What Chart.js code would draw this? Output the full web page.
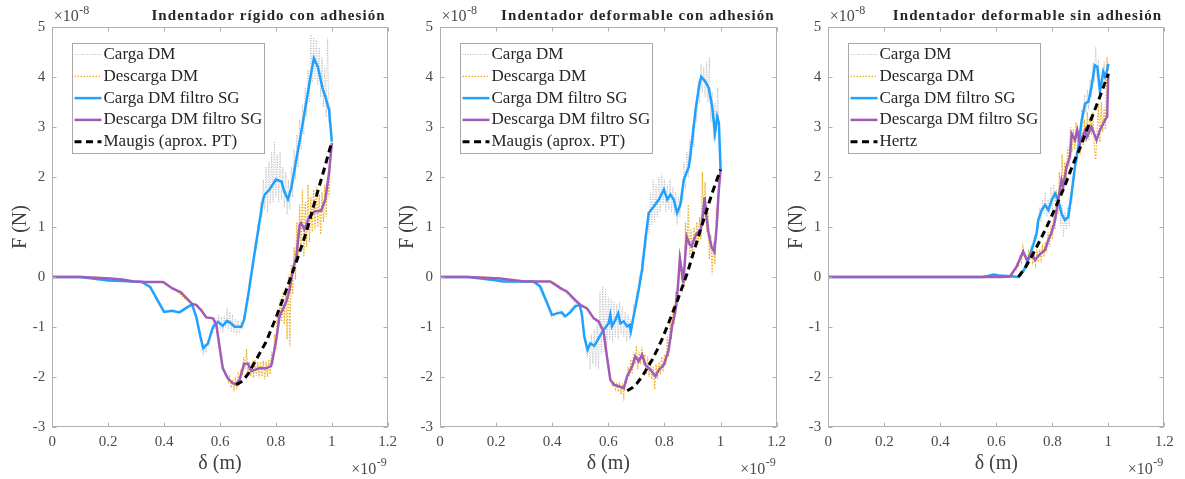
<!DOCTYPE html>
<html>
<head>
<meta charset="utf-8">
<script src="https://cdn.jsdelivr.net/npm/chart.js"></script>
<style>
  body { margin: 0; background: #fff; }
  canvas { position: absolute; left: 0; top: 0; }
</style>
</head>
<body>
<canvas id="p1" width="1185" height="479"></canvas>
<canvas id="p2" width="1185" height="479"></canvas>
<canvas id="p3" width="1185" height="479"></canvas>

<script>
// delta in units of 1e-9 m, force in units of 1e-8 N
const xTicks = [0, 0.2, 0.4, 0.6, 0.8, 1, 1.2];
const yTicks = [-3, -2, -1, 0, 1, 2, 3, 4, 5];

const titles = ['Indentador rígido con adhesión', 'Indentador deformable con adhesión', 'Indentador deformable sin adhesión'];
const seriesNames = ['Carga DM', 'Descarga DM', 'Carga DM filtro SG', 'Descarga DM filtro SG'];
const modelNames = ['Maugis (aprox. PT)', 'Maugis (aprox. PT)', 'Hertz'];

// raw DM samples, all on the same delta grid
const dmX = [0, 0.05, 0.1, 0.15, 0.2, 0.25, 0.3, 0.325, 0.35, 0.375, 0.4, 0.42, 0.44, 0.46, 0.48, 0.5,
  0.505, 0.51, 0.515, 0.52, 0.525, 0.53, 0.535, 0.54, 0.545, 0.55,
  0.555, 0.56, 0.565, 0.57, 0.575, 0.58, 0.585, 0.59, 0.595, 0.6,
  0.605, 0.61, 0.615, 0.62, 0.625, 0.63, 0.635, 0.64, 0.645, 0.65,
  0.655, 0.66, 0.665, 0.67, 0.675, 0.68, 0.685, 0.69, 0.695, 0.7,
  0.705, 0.71, 0.715, 0.72, 0.725, 0.73, 0.735, 0.74, 0.745, 0.75,
  0.755, 0.76, 0.765, 0.77, 0.775, 0.78, 0.785, 0.79, 0.795, 0.8,
  0.805, 0.81, 0.815, 0.82, 0.825, 0.83, 0.835, 0.84, 0.845, 0.85,
  0.855, 0.86, 0.865, 0.87, 0.875, 0.88, 0.885, 0.89, 0.895, 0.9,
  0.905, 0.91, 0.915, 0.92, 0.925, 0.93, 0.935, 0.94, 0.945, 0.95,
  0.955, 0.96, 0.965, 0.97, 0.975, 0.98, 0.985, 0.99, 0.995, 1.0];

// --- rigid indenter with adhesion ---
const cargaDM1 = [0, 0, 0, -0.01, -0.06, -0.08, -0.09, -0.1, -0.22, -0.5, -0.72, -0.66, -0.72, -0.68, -0.6, -0.56,
  -0.6, -0.76, -0.78, -0.98, -1.02, -1.3, -1.25, -1.58, -1.35, -1.52,
  -1.28, -1.38, -1.1, -1.18, -0.92, -1.05, -0.82, -1.0, -0.75, -1.05,
  -0.8, -1.12, -0.78, -1.02, -0.62, -1.05, -0.7, -1.1, -0.76, -1.12,
  -0.85, -1.15, -0.88, -1.12, -0.9, -1.05, -0.75, -0.85, -0.42, -0.5,
  -0.05, -0.15, 0.32, 0.22, 0.7, 0.55, 1.05, 0.9, 1.5, 1.2,
  1.95, 1.35, 2.2, 1.3, 2.3, 1.45, 2.5, 1.5, 2.72, 1.6,
  2.45, 1.5, 2.5, 1.55, 2.2, 1.4, 2.1, 1.25, 1.95, 1.35,
  2.2, 1.6, 2.55, 1.95, 2.85, 2.2, 3.15, 2.55, 3.45, 2.85,
  3.8, 3.2, 4.15, 3.5, 4.85, 3.9, 4.8, 3.95, 4.75, 3.85,
  4.6, 3.6, 4.4, 3.4, 4.2, 3.2, 4.78, 3.1, 3.4, 2.75];
const descargaDM1 = [0, 0, 0, 0, -0.02, -0.05, -0.08, -0.1, -0.1, -0.1, -0.1, -0.18, -0.26, -0.36, -0.46, -0.54,
  -0.55, -0.56, -0.56, -0.6, -0.63, -0.66, -0.7, -0.74, -0.78, -0.81,
  -0.82, -0.83, -0.83, -0.83, -0.84, -0.88, -0.95, -1.1, -1.3, -1.46,
  -1.65, -1.83, -1.9, -1.98, -1.98, -2.1, -2.0, -2.22, -2.05, -2.25,
  -2.05, -2.2, -1.95, -2.12, -1.85, -1.98, -1.6, -1.85, -1.45, -1.9,
  -1.7, -2.0, -1.75, -2.02, -1.65, -1.98, -1.7, -2.02, -1.7, -2.0,
  -1.68, -2.05, -1.7, -2.0, -1.65, -1.95, -1.5, -1.75, -1.15, -1.45,
  -0.7, -1.0, -0.45, -0.9, -0.3, -0.95, -0.2, -1.25, 0.05, -1.4,
  0.25, -0.35, 0.6, -0.05, 1.1, 0.35, 1.45, 0.55, 1.75, 0.4,
  1.5, 0.6, 1.85, 0.7, 1.6, 0.9, 1.75, 0.95, 1.8, 1.0,
  1.65, 0.85, 1.7, 1.1, 1.85, 1.2, 2.0, 1.6, 2.35, 2.7];
const cargaSG1X = [0, 0.1, 0.2, 0.25, 0.32, 0.35, 0.375, 0.4, 0.43, 0.455, 0.485, 0.5, 0.515, 0.53, 0.54,
  0.557, 0.575, 0.593, 0.61, 0.625, 0.64, 0.652, 0.676, 0.686, 0.7, 0.718, 0.735, 0.754, 0.76, 0.777,
  0.8, 0.82, 0.83, 0.843, 0.855, 0.873, 0.89, 0.908, 0.926, 0.936, 0.95, 0.968, 0.977, 0.99, 1.0];
const cargaSG1 = [0, 0, -0.07, -0.08, -0.1, -0.2, -0.45, -0.7, -0.68, -0.71, -0.6, -0.55, -0.8, -1.2, -1.43,
  -1.33, -1.0, -0.9, -0.98, -0.88, -0.93, -1.0, -1.0, -0.86, -0.4, 0.27, 0.88, 1.55, 1.65, 1.75,
  1.95, 1.91, 1.71, 1.55, 1.78, 2.35, 2.88, 3.48, 4.08, 4.38, 4.21, 3.75, 3.61, 3.35, 2.71];
const descargaSG1X = [0, 0.1, 0.206, 0.25, 0.29, 0.337, 0.396, 0.43, 0.46, 0.486, 0.5, 0.515, 0.533, 0.551, 0.575,
  0.587, 0.6, 0.61, 0.628, 0.646, 0.658, 0.67, 0.686, 0.7, 0.712, 0.74, 0.765, 0.783, 0.79, 0.8,
  0.813, 0.837, 0.849, 0.86, 0.873, 0.885, 0.89, 0.902, 0.92, 0.938, 0.962, 0.977, 0.99, 1.0];
const descargaSG1 = [0, 0, -0.03, -0.05, -0.09, -0.1, -0.1, -0.23, -0.31, -0.46, -0.54, -0.56, -0.67, -0.81, -0.83,
  -0.96, -1.46, -1.83, -2.03, -2.13, -2.15, -2.06, -1.74, -1.74, -1.89, -1.83, -1.83, -1.78, -1.6, -1.3,
  -0.79, -0.5, -0.26, 0.14, 0.4, 1.04, 1.08, 0.95, 1.21, 1.31, 1.33, 1.55, 2.08, 2.68];
const model1X = [0.658, 0.68, 0.7, 0.73, 0.765, 0.8, 0.837, 0.873, 0.909, 0.95, 0.975, 1.0];
const model1 = [-2.16, -2.09, -1.95, -1.65, -1.3, -0.82, -0.26, 0.3, 0.9, 1.72, 2.2, 2.71];

// --- deformable indenter with adhesion ---
const cargaDM2 = [0, 0, 0, -0.02, -0.07, -0.09, -0.09, -0.1, -0.17, -0.48, -0.85, -0.66, -0.82, -0.68, -0.55, -0.6,
  -0.7, -1.05, -1.25, -1.45, -1.6, -1.35, -1.85, -1.15, -1.75, -1.05,
  -1.8, -0.95, -1.85, -0.3, -1.55, -0.2, -1.5, -0.25, -1.35, -0.4,
  -1.25, -0.45, -1.3, -0.5, -1.2, -0.55, -1.25, -0.5, -1.15, -0.6,
  -1.2, -0.7, -1.3, -0.75, -1.25, -0.85, -1.05, -0.55, -0.75, -0.3,
  -0.5, 0.05, -0.1, 0.4, 0.1, 0.85, 0.55, 1.3, 0.85, 1.7,
  1.05, 1.95, 1.1, 1.85, 1.2, 2.0, 1.3, 2.05, 1.45, 1.95,
  1.3, 1.85, 1.35, 1.95, 1.3, 1.8, 1.25, 1.7, 1.05, 1.6,
  1.2, 1.75, 1.5, 2.3, 1.75, 2.5, 2.0, 2.75, 2.3, 3.05,
  2.6, 3.5, 3.1, 3.95, 3.5, 4.25, 3.7, 4.2, 3.6, 4.3,
  3.5, 4.4, 3.1, 3.7, 2.75, 3.5, 2.9, 3.8, 2.6, 2.2];
const descargaDM2 = [0, 0, 0, 0, -0.02, -0.05, -0.08, -0.09, -0.09, -0.09, -0.1, -0.15, -0.25, -0.38, -0.5, -0.56,
  -0.58, -0.6, -0.61, -0.63, -0.66, -0.7, -0.74, -0.78, -0.82, -0.84,
  -0.87, -0.89, -0.9, -0.92, -0.97, -1.05, -1.12, -1.3, -1.55, -1.8,
  -2.05, -2.08, -2.2, -2.12, -2.25, -2.15, -2.3, -2.15, -2.35, -2.18,
  -2.4, -2.05, -2.15, -1.8, -2.0, -1.65, -1.95, -1.5, -1.75, -1.38,
  -1.85, -1.5, -1.75, -1.4, -1.7, -1.55, -1.95, -1.6, -2.0, -1.7,
  -2.05, -1.8, -2.25, -1.75, -2.05, -1.7, -1.95, -1.6, -1.9, -1.55,
  -1.75, -1.2, -1.6, -0.85, -1.25, -0.6, -0.95, -0.3, -0.6, 0.15,
  0.5, -0.05, 0.2, -0.2, 1.1, 0.55, 1.45, 0.4, 0.95, 0.45,
  1.0, 0.6, 1.1, 0.65, 1.2, 0.75, 2.1, 1.1, 1.9, 0.9,
  1.3, 0.35, 0.85, 0.05, 0.7, 0.25, 1.3, 1.15, 1.9, 2.15];
const cargaSG2X = [0, 0.1, 0.19, 0.226, 0.3, 0.333, 0.357, 0.375, 0.387, 0.399, 0.417, 0.434, 0.446, 0.464, 0.482,
  0.498, 0.506, 0.514, 0.526, 0.536, 0.55, 0.565, 0.583, 0.601, 0.607, 0.613, 0.625, 0.635, 0.643, 0.655,
  0.667, 0.676, 0.68, 0.69, 0.708, 0.72, 0.732, 0.744, 0.762, 0.78, 0.798, 0.81, 0.821, 0.833, 0.845,
  0.857, 0.869, 0.887, 0.899, 0.911, 0.923, 0.931, 0.946, 0.958, 0.97, 0.98, 0.988, 0.994, 1.0];
const cargaSG2 = [0, 0, -0.06, -0.09, -0.09, -0.09, -0.19, -0.43, -0.59, -0.76, -0.73, -0.71, -0.79, -0.71, -0.59,
  -0.56, -0.76, -1.19, -1.46, -1.33, -1.38, -1.23, -1.06, -0.93, -0.76, -0.99, -0.86, -0.73, -0.93, -0.89,
  -0.99, -0.96, -1.09, -0.79, -0.26, 0.14, 0.75, 1.28, 1.41, 1.55, 1.75, 1.55, 1.65, 1.55, 1.28,
  1.45, 1.95, 2.21, 2.75, 3.35, 3.81, 4.01, 3.91, 3.78, 3.41, 2.88, 3.21, 3.08, 2.15];
const descargaSG2X = [0, 0.1, 0.214, 0.3, 0.393, 0.43, 0.452, 0.476, 0.5, 0.524, 0.548, 0.565, 0.583, 0.595, 0.607,
  0.62, 0.637, 0.655, 0.667, 0.685, 0.696, 0.708, 0.72, 0.732, 0.75, 0.768, 0.78, 0.798, 0.815, 0.827,
  0.839, 0.848, 0.855, 0.862, 0.867, 0.879, 0.89, 0.897, 0.905, 0.915, 0.93, 0.938, 0.943, 0.95, 0.958,
  0.968, 0.978, 0.986, 0.993, 1.0];
const descargaSG2 = [0, 0, -0.03, -0.09, -0.09, -0.23, -0.29, -0.43, -0.56, -0.63, -0.83, -0.89, -1.09, -1.59, -2.06,
  -2.16, -2.19, -2.23, -1.99, -1.79, -1.59, -1.69, -1.56, -1.76, -1.86, -1.99, -1.86, -1.76, -1.46, -0.99,
  -0.69, -0.19, 0.37, 0.1, -0.13, 0.81, 0.65, 0.61, 0.75, 0.87, 0.95, 1.3, 1.6, 1.2, 0.85,
  0.6, 0.5, 1.0, 1.7, 2.15];
const model2X = [0.667, 0.685, 0.702, 0.72, 0.738, 0.756, 0.774, 0.792, 0.81, 0.845, 0.881, 0.91, 0.94, 0.97, 1.0];
const model2 = [-2.28, -2.22, -2.13, -2.0, -1.83, -1.66, -1.46, -1.24, -0.99, -0.49, 0.07, 0.61, 1.15, 1.68, 2.15];

// --- deformable indenter without adhesion ---
const cargaDM3 = [0, 0, 0, 0, 0, 0, 0, 0, 0, 0, 0, 0, 0, 0, 0, 0,
  0, 0, 0, 0, 0, 0, 0, 0, 0, 0,
  0.01, 0.0, 0.03, 0.01, 0.05, 0.02, 0.06, 0.03, 0.05, 0.02,
  0.04, 0.02, 0.04, 0.01, 0.03, 0.01, 0.03, 0.0, 0.02, 0.0,
  0.02, 0.0, 0.01, 0.0, 0.02, -0.01, 0.1, 0.02, 0.2, 0.1,
  0.3, 0.2, 0.45, 0.35, 0.65, 0.5, 0.85, 0.7, 1.1, 0.95,
  1.4, 1.1, 1.55, 1.25, 1.7, 1.2, 1.55, 1.25, 1.8, 1.35,
  1.85, 1.45, 1.75, 1.3, 1.6, 1.0, 1.45, 0.8, 1.3, 0.95,
  1.4, 1.0, 1.7, 1.45, 2.1, 1.95, 2.5, 2.3, 2.85, 2.7,
  3.35, 3.0, 3.65, 3.3, 3.75, 3.35, 3.95, 3.6, 4.3, 3.9,
  4.6, 4.0, 4.35, 3.55, 4.0, 3.85, 4.3, 3.9, 4.25, 4.2];
const descargaDM3 = [0, 0, 0, 0, 0, 0, 0, 0, 0, 0, 0, 0, 0, 0, 0, 0,
  0, 0, 0, 0, 0, 0, 0, 0, 0, 0,
  0, 0, 0, 0, 0, 0, 0, 0, 0, 0,
  0, 0, 0, 0, 0.01, 0.0, 0.02, 0.01, 0.02, 0.03,
  0.08, 0.05, 0.18, 0.12, 0.3, 0.2, 0.45, 0.3, 0.6, 0.4,
  0.45, 0.25, 0.5, 0.35, 0.58, 0.3, 0.45, 0.25, 0.5, 0.3,
  0.55, 0.35, 0.6, 0.4, 0.7, 0.55, 0.9, 0.6, 1.05, 0.75,
  1.3, 0.95, 1.7, 1.25, 2.1, 1.6, 2.45, 1.7, 2.3, 1.9,
  2.6, 2.2, 3.0, 2.5, 2.95, 2.55, 3.1, 2.7, 2.95, 2.45,
  3.0, 2.65, 3.15, 2.7, 3.3, 2.75, 3.2, 2.85, 3.3, 2.6,
  2.35, 2.9, 3.45, 2.7, 3.5, 2.9, 3.4, 2.95, 4.4, 4.1];
const cargaSG3X = [0, 0.3, 0.55, 0.57, 0.59, 0.61, 0.637, 0.66, 0.68, 0.7, 0.714, 0.732, 0.744, 0.75, 0.762,
  0.774, 0.786, 0.798, 0.81, 0.821, 0.833, 0.845, 0.857, 0.869, 0.881, 0.893, 0.905, 0.917, 0.929, 0.94,
  0.952, 0.961, 0.97, 0.982, 0.988, 0.996, 1.0];
const cargaSG3 = [0, 0, 0, 0.02, 0.05, 0.03, 0.02, 0.01, 0, 0.15, 0.34, 0.64, 0.87, 1.14, 1.34,
  1.44, 1.34, 1.54, 1.67, 1.54, 1.27, 1.14, 1.2, 1.67, 2.21, 2.61, 3.14, 3.47, 3.51, 3.81,
  4.24, 4.21, 3.71, 4.11, 4.01, 4.14, 4.27];
const descargaSG3X = [0, 0.3, 0.62, 0.649, 0.673, 0.696, 0.709, 0.726, 0.738, 0.755, 0.774, 0.786, 0.798, 0.81, 0.821,
  0.833, 0.839, 0.851, 0.863, 0.869, 0.881, 0.889, 0.899, 0.917, 0.923, 0.94, 0.958, 0.97, 0.988, 0.996, 1.0];
const descargaSG3 = [0, 0, 0, 0.01, 0.21, 0.51, 0.34, 0.47, 0.34, 0.45, 0.54, 0.74, 0.9, 1.14, 1.54,
  1.94, 1.81, 2.21, 2.41, 2.87, 2.74, 2.94, 2.67, 2.94, 2.8, 3.01, 2.74, 2.94, 3.14, 3.21, 4.07];
const model3X = [0.679, 0.705, 0.732, 0.756, 0.78, 0.804, 0.828, 0.852, 0.875, 0.9, 0.923, 0.947, 0.97, 1.0];
const model3 = [0, 0.2, 0.47, 0.73, 1.0, 1.3, 1.6, 1.93, 2.27, 2.6, 2.94, 3.28, 3.61, 4.07];

const panels = [
  { id: 'p1', left: 52.3, right: 387.7,
    series: [[dmX, cargaDM1], [dmX, descargaDM1], [cargaSG1X, cargaSG1], [descargaSG1X, descargaSG1], [model1X, model1]] },
  { id: 'p2', left: 440, right: 776.7,
    series: [[dmX, cargaDM2], [dmX, descargaDM2], [cargaSG2X, cargaSG2], [descargaSG2X, descargaSG2], [model2X, model2]] },
  { id: 'p3', left: 828.3, right: 1164.3,
    series: [[dmX, cargaDM3], [dmX, descargaDM3], [cargaSG3X, cargaSG3], [descargaSG3X, descargaSG3], [model3X, model3]] }
];
const plotTop = 27.3, plotBottom = 426.7;

const lineStyles = [
  { borderColor: '#bababa', borderWidth: 1, borderDash: [1, 1.5] },
  { borderColor: '#edb120', borderWidth: 1.2, borderDash: [1.5, 1.5] },
  { borderColor: '#1ea1ff', borderWidth: 2.5, borderDash: [] },
  { borderColor: '#a05cb8', borderWidth: 2.5, borderDash: [] },
  { borderColor: '#000000', borderWidth: 3, borderDash: [7, 4.5] }
];

const serif = '"Liberation Serif", serif';
Chart.defaults.font.family = serif;

function pts(xs, ys) {
  return xs.map((x, i) => ({ x: x, y: ys[i] }));
}

// box, inward ticks, legend, title and exponent labels
const decor = {
  id: 'decor',
  afterDatasetsDraw(chart, args, o) {
    const ctx = chart.ctx, a = chart.chartArea;
    const xs = chart.scales.x, ys = chart.scales.y;
    const l = Math.round(a.left) + 0.5, r = Math.round(a.right) - 0.5;
    const t = Math.round(a.top) + 0.5, b = Math.round(a.bottom) - 0.5;
    ctx.save();
    ctx.setLineDash([]);
    ctx.strokeStyle = '#b0b0b0';
    ctx.lineWidth = 1;
    ctx.strokeRect(l, t, r - l, b - t);
    ctx.beginPath();
    xTicks.forEach(v => {
      const p = Math.round(xs.getPixelForValue(v)) + 0.5;
      ctx.moveTo(p, b); ctx.lineTo(p, b - 4);
      ctx.moveTo(p, t); ctx.lineTo(p, t + 4);
    });
    yTicks.forEach(v => {
      const p = Math.round(ys.getPixelForValue(v)) + 0.5;
      ctx.moveTo(l, p); ctx.lineTo(l + 4, p);
      ctx.moveTo(r, p); ctx.lineTo(r - 4, p);
    });
    ctx.stroke();

    // legend
    const names = seriesNames.concat([o.model]);
    ctx.font = '17px ' + serif;
    const tw = Math.max(...names.map(n => ctx.measureText(n).width));
    const bx = Math.round(a.left) + 20.5, by = 43.5, bw = Math.round(tw) + 33, bh = 110;
    ctx.fillStyle = '#ffffff';
    ctx.fillRect(bx, by, bw, bh);
    ctx.strokeStyle = '#a8a8a8';
    ctx.strokeRect(bx, by, bw, bh);
    ctx.textAlign = 'left';
    ctx.textBaseline = 'middle';
    names.forEach((n, i) => {
      const yy = by + 11 + i * 21.8;
      const st = lineStyles[i];
      ctx.strokeStyle = st.borderColor;
      ctx.lineWidth = st.borderWidth;
      ctx.setLineDash(st.borderDash);
      ctx.beginPath();
      ctx.moveTo(bx + 2, yy);
      ctx.lineTo(bx + 29, yy);
      ctx.stroke();
      ctx.fillStyle = '#262626';
      ctx.fillText(n, bx + 31, yy);
    });
    ctx.setLineDash([]);

    // title
    ctx.font = 'bold 15px ' + serif;
    ctx.letterSpacing = '1.1px';
    ctx.textAlign = 'right';
    ctx.textBaseline = 'alphabetic';
    ctx.fillStyle = '#262626';
    ctx.fillText(o.title, a.right - 2, 20);
    ctx.letterSpacing = '0px';

    // axis titles
    ctx.fillStyle = '#404040';
    ctx.font = '20px ' + serif;
    ctx.textAlign = 'center';
    ctx.fillText('δ (m)', (a.left + a.right) / 2, 469);
    ctx.save();
    ctx.translate(a.left - 32, (a.top + a.bottom) / 2);
    ctx.rotate(-Math.PI / 2);
    ctx.textBaseline = 'middle';
    ctx.fillText('F (N)', 0, 0);
    ctx.restore();

    // exponent labels
    ctx.fillStyle = '#4a4a4a';
    ctx.textAlign = 'left';
    ctx.font = '16px ' + serif;
    const w10 = ctx.measureText('×10').width;
    ctx.fillText('×10', a.left + 1.5, 21);
    ctx.font = '12px ' + serif;
    const w9 = ctx.measureText('-9').width;
    ctx.fillText('-8', a.left + 1.5 + w10 + 0.5, 14);
    const ex = a.right - 1 - w9 - w10 - 0.5;
    ctx.fillText('-9', ex + w10 + 0.5, 466);
    ctx.font = '16px ' + serif;
    ctx.fillText('×10', ex, 474);
    ctx.restore();
  }
};

panels.forEach((p, k) => {
  const datasets = p.series.map((s, i) => Object.assign({
    label: i < 4 ? seriesNames[i] : modelNames[k],
    data: pts(s[0], s[1]),
    showLine: true,
    pointRadius: 0,
    fill: false,
    tension: 0,
    order: 5 - i
  }, lineStyles[i]));

  new Chart(document.getElementById(p.id), {
    type: 'scatter',
    data: { datasets: datasets },
    options: {
      responsive: false,
      animation: false,
      events: [],
      layout: { padding: { left: p.left - 45, right: 1185 - p.right, top: plotTop, bottom: 0 } },
      scales: {
        x: {
          type: 'linear', min: 0, max: 1.2,
          grid: { display: false, drawTicks: false, tickLength: 0 },
          border: { display: false },
          afterBuildTicks: s => { s.ticks = xTicks.map(v => ({ value: v })); },
          afterFit: s => { s.height = 479 - plotBottom; },
          ticks: {
            autoSkip: false, maxRotation: 0, padding: 6, color: '#4a4a4a',
            font: { family: serif, size: 15 },
            callback: v => String(Math.round(v * 10) / 10)
          }
        },
        y: {
          type: 'linear', min: -3, max: 5,
          grid: { display: false, drawTicks: false, tickLength: 0 },
          border: { display: false },
          afterBuildTicks: s => { s.ticks = yTicks.map(v => ({ value: v })); },
          afterFit: s => { s.width = 45; },
          ticks: {
            autoSkip: false, padding: 7, color: '#4a4a4a',
            font: { family: serif, size: 15 },
            callback: v => String(v)
          }
        }
      },
      plugins: {
        legend: { display: false },
        tooltip: { enabled: false },
        decor: { title: titles[k], model: modelNames[k] }
      }
    },
    plugins: [decor]
  });
});
</script>
</body>
</html>
